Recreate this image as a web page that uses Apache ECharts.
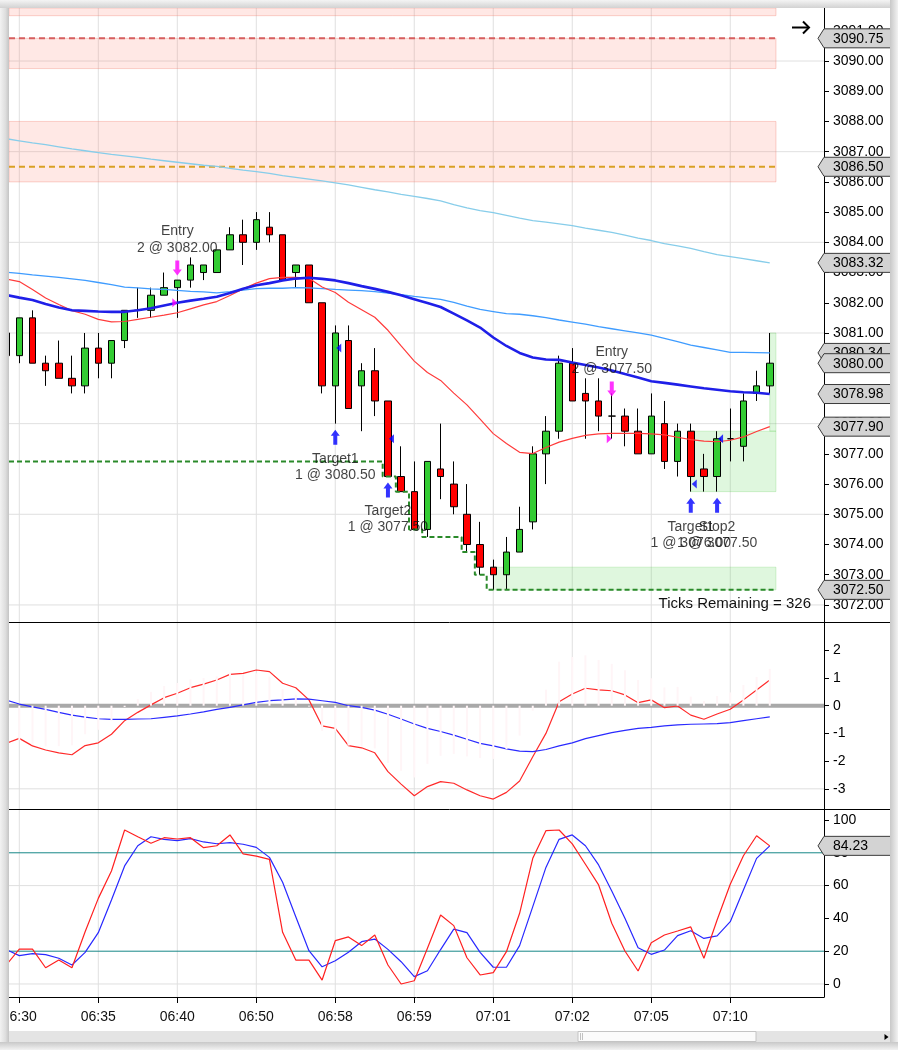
<!DOCTYPE html>
<html><head><meta charset="utf-8">
<script src="https://cdn.jsdelivr.net/npm/echarts@6/dist/echarts.min.js"></script>
<style>html,body{margin:0;padding:0;background:#fff;}#c{width:898px;height:1050px;}</style>
</head><body><div id="c"></div>
<script>
// ---------- data ----------
const timeTickIdx = [1, 7, 13, 19, 25, 31, 37, 43, 49, 55];
const timeTickLabels = ['06:30', '06:35', '06:40', '06:50', '06:58', '06:59', '07:01', '07:02', '07:05', '07:10'];

const opens  = [3081.0,3080.25,3081.5,3080.0,3080.0,3079.5,3079.25,3080.5,3080.0,3080.75,3081.75,3081.75,3082.25,3082.5,3082.75,3083.0,3083.0,3083.75,3084.25,3084.0,3084.5,3084.25,3083.0,3083.25,3082.0,3079.25,3080.75,3079.25,3079.75,3078.75,3076.25,3075.75,3074.5,3076.5,3076.0,3075.0,3074.0,3073.25,3073.0,3073.75,3074.75,3077.0,3077.75,3080.0,3079.0,3078.75,3078.25,3078.25,3077.75,3077.0,3078.0,3076.75,3077.75,3076.5,3076.25,3077.5,3077.25,3079.0,3079.25];
const closes = [3080.25,3081.5,3080.0,3079.75,3079.5,3079.25,3080.5,3080.0,3080.75,3081.75,3081.75,3082.25,3082.5,3082.75,3083.25,3083.25,3083.75,3084.25,3084.0,3084.75,3084.25,3082.75,3083.25,3082.0,3079.25,3081.0,3078.5,3079.75,3078.75,3076.25,3075.75,3074.5,3076.75,3076.25,3075.25,3074.0,3073.25,3073.0,3073.75,3074.5,3077.0,3077.75,3080.0,3078.75,3078.75,3078.25,3078.25,3077.75,3077.0,3078.25,3076.75,3077.75,3076.25,3076.25,3077.5,3077.5,3078.75,3079.25,3080.0];
const lows   = [3080.25,3080.0,3080.0,3079.25,3079.5,3079.0,3079.0,3079.5,3079.5,3080.5,3081.5,3081.5,3082.25,3081.5,3082.5,3082.75,3083.0,3083.75,3083.25,3083.75,3084.0,3082.75,3082.5,3082.0,3079.0,3078.0,3078.5,3077.75,3078.25,3076.25,3075.75,3074.5,3074.25,3075.5,3075.0,3073.75,3073.0,3072.5,3072.5,3073.75,3074.5,3076.0,3077.5,3078.75,3077.5,3077.75,3077.5,3077.25,3077.0,3077.0,3076.5,3076.25,3075.75,3075.75,3075.75,3076.75,3076.75,3078.75,3079.0];
const highs  = [3081.0,3081.5,3081.75,3080.25,3080.75,3080.25,3081.0,3081.0,3080.75,3081.75,3082.5,3082.5,3083.0,3082.75,3083.5,3083.25,3083.75,3084.5,3084.75,3085.0,3085.0,3084.25,3083.25,3083.25,3082.0,3081.25,3081.25,3080.0,3080.5,3078.75,3077.25,3076.75,3076.75,3078.0,3076.75,3076.0,3074.75,3073.5,3074.25,3075.25,3077.25,3078.25,3080.25,3080.5,3079.5,3079.5,3079.0,3078.5,3078.5,3079.0,3078.75,3078.0,3078.0,3077.0,3077.75,3078.5,3079.0,3079.75,3081.0];

const emaSlow = [3087.43,3087.36,3087.29,3087.23,3087.16,3087.09,3087.03,3086.97,3086.91,3086.86,3086.81,3086.75,3086.70,3086.65,3086.60,3086.55,3086.51,3086.45,3086.39,3086.34,3086.28,3086.21,3086.15,3086.09,3086.03,3085.97,3085.90,3085.82,3085.74,3085.67,3085.59,3085.52,3085.45,3085.37,3085.25,3085.14,3085.05,3084.98,3084.89,3084.80,3084.72,3084.67,3084.61,3084.55,3084.47,3084.40,3084.33,3084.24,3084.14,3084.06,3083.96,3083.88,3083.80,3083.69,3083.59,3083.53,3083.46,3083.39,3083.32];
const emaMid = [3083.01,3082.97,3082.92,3082.88,3082.84,3082.79,3082.74,3082.67,3082.60,3082.52,3082.49,3082.46,3082.44,3082.41,3082.38,3082.36,3082.33,3082.37,3082.42,3082.47,3082.48,3082.48,3082.50,3082.49,3082.47,3082.44,3082.42,3082.40,3082.37,3082.32,3082.27,3082.21,3082.16,3082.11,3082.01,3081.89,3081.78,3081.71,3081.64,3081.62,3081.57,3081.51,3081.43,3081.36,3081.29,3081.21,3081.14,3081.07,3081.00,3080.93,3080.82,3080.71,3080.60,3080.52,3080.44,3080.36,3080.36,3080.35,3080.34];
const maBlue = [3082.26,3082.17,3082.09,3081.96,3081.84,3081.75,3081.73,3081.71,3081.70,3081.70,3081.75,3081.82,3081.91,3082.00,3082.07,3082.13,3082.20,3082.32,3082.46,3082.58,3082.65,3082.74,3082.80,3082.83,3082.79,3082.74,3082.65,3082.55,3082.46,3082.36,3082.25,3082.12,3081.99,3081.86,3081.64,3081.42,3081.18,3080.85,3080.57,3080.34,3080.19,3080.12,3080.11,3080.02,3079.94,3079.86,3079.76,3079.64,3079.53,3079.40,3079.35,3079.29,3079.23,3079.17,3079.12,3079.07,3079.04,3079.02,3078.98];
const emaFast = [3082.79,3082.70,3082.44,3082.16,3081.94,3081.74,3081.62,3081.45,3081.37,3081.38,3081.45,3081.52,3081.59,3081.67,3081.80,3081.93,3082.04,3082.24,3082.46,3082.65,3082.80,3082.84,3082.84,3082.81,3082.52,3082.34,3082.02,3081.77,3081.52,3081.09,3080.57,3080.07,3079.69,3079.43,3079.01,3078.62,3078.15,3077.67,3077.34,3077.05,3077.01,3077.21,3077.39,3077.51,3077.61,3077.66,3077.68,3077.68,3077.68,3077.66,3077.63,3077.55,3077.47,3077.42,3077.40,3077.45,3077.56,3077.74,3077.90];

const macdLine = [-1.36,-1.18,-1.45,-1.60,-1.70,-1.77,-1.44,-1.34,-1.03,-0.54,-0.24,0.03,0.29,0.45,0.65,0.78,0.93,1.13,1.17,1.29,1.23,0.81,0.65,0.21,-0.73,-0.82,-1.44,-1.52,-1.70,-2.38,-2.83,-3.25,-2.92,-2.74,-2.80,-3.04,-3.25,-3.37,-3.13,-2.72,-1.84,-1.00,0.14,0.42,0.63,0.57,0.54,0.39,0.11,0.21,-0.07,-0.01,-0.34,-0.49,-0.30,-0.13,0.21,0.57,0.93];
const macdSignal = [0.20,0.06,-0.04,-0.13,-0.24,-0.34,-0.41,-0.47,-0.49,-0.49,-0.48,-0.47,-0.42,-0.37,-0.30,-0.22,-0.13,-0.06,0.03,0.12,0.18,0.21,0.25,0.24,0.18,0.12,0.00,-0.06,-0.16,-0.31,-0.48,-0.66,-0.82,-0.93,-1.06,-1.21,-1.36,-1.45,-1.56,-1.64,-1.66,-1.58,-1.45,-1.34,-1.19,-1.08,-0.97,-0.89,-0.82,-0.78,-0.73,-0.69,-0.67,-0.66,-0.65,-0.61,-0.54,-0.47,-0.40];
const macdHist = [-1.56,-1.24,-1.41,-1.47,-1.46,-1.43,-1.03,-0.87,-0.54,-0.05,0.24,0.50,0.71,0.82,0.95,1.00,1.06,1.19,1.14,1.17,1.05,0.60,0.40,-0.03,-0.91,-0.94,-1.44,-1.46,-1.54,-2.07,-2.35,-2.59,-2.10,-1.81,-1.74,-1.83,-1.89,-1.92,-1.57,-1.08,-0.18,0.58,1.59,1.76,1.82,1.65,1.51,1.28,0.93,0.99,0.66,0.68,0.33,0.17,0.35,0.48,0.75,1.04,1.33];

const stochK = [11.5,21.3,21.3,9.9,14.6,9.9,31.9,52.2,68.9,93.9,89.8,85.8,89.2,88.4,89.2,83.1,84.3,90.9,79.3,78.0,76.0,31.5,14.6,14.6,2.4,26.4,28.7,23.4,29.9,11.6,0.0,2.0,21.8,42.1,35.6,16.0,5.5,6.9,19.7,43.1,76.6,93.5,93.9,85.4,73.0,60.4,37.0,20.1,7.9,25.2,29.9,32.3,34.8,15.7,39.0,60.8,78.2,90.4,84.23];
const stochD = [21.0,17.3,18.5,17.9,15.7,11.6,19.3,31.3,51.2,72.0,84.3,89.8,88.2,87.4,88.6,86.6,85.5,86.2,85.2,83.3,77.2,62.0,41.0,20.3,10.5,14.2,19.3,25.8,27.4,21.1,13.6,4.5,8.1,21.0,33.5,31.3,19.3,10.2,10.2,23.4,47.2,71.1,88.2,90.9,84.3,72.6,56.7,40.1,22.1,18.1,20.7,29.5,32.5,27.8,29.3,38.0,57.3,76.6,84.23];

const priceTicks = [3072,3073,3074,3075,3076,3077,3078,3079,3080,3081,3082,3083,3084,3085,3086,3087,3088,3089,3090,3091];
const priceGrid = [3072,3075,3078,3081,3084,3087,3090];
const macdTicks = [-3,-2,-1,0,1,2];
const macdGrid = [-3];
const stochTicks = [0,20,40,60,80,100];
const stochGrid = [0,60];
const stochBands = [20,80];

const levelPrices = [3090.75, 3086.5];
const levelEnd = 58.5;
const pinkZones = [[0.218,58.47,3091.5,3091.754],[0.218,58.47,3089.75,3090.75],[0.218,58.47,3086.0,3088.0]];
const greenZones = [[37,58.47,3072.5,3073.25],[52,58.47,3075.75,3077.75],[58,58.47,3077.75,3081.0]];
const stopX = [0.218,28.6,28.6,29.6,29.6,30.6,30.6,31.6,31.6,34.6,34.6,35.6,35.6,36.5,36.5,58.5];
const stopY = [3076.75,3076.75,3076.25,3076.25,3075.75,3075.75,3074.5,3074.5,3074.25,3074.25,3073.75,3073.75,3073.0,3073.0,3072.5,3072.5];

const entryBars = [13, 46];
const entryArrowPrice = [3083.15, 3079.15];
const entryFill = [3082.0, 3077.5];
const entryLabels = ['Entry\n2 @ 3082.00', 'Entry\n2 @ 3077.50'];
const exitBars = [25, 29, 52, 54];
const exitArrowPrice = [3077.55, 3075.8, 3075.3, 3075.3];
const exitFill = [3080.5, 3077.5, 3076.0, 3077.5];
const exitLabels = ['Target1\n1 @ 3080.50', 'Target2\n1 @ 3077.50', 'Target1\n1 @ 3076.00', 'Stop2\n1 @ 3077.50'];

const priceFlags = [3090.75, 3086.50, 3083.32, 3080.34, 3080.00, 3078.98, 3077.90, 3072.50];
const stochFlags = [84.23];

// ---------- layout ----------
const FONT = 'Liberation Sans, Arial, sans-serif';
const X_MIN = 0.218, X_MAX = 62.12;
const pair = arr => arr.map((v, i) => [i, v]);

function hLine(stroke, width, dash) {
  return function (params, api) {
    const cs = params.coordSys;
    const y = api.coord([api.value(0), api.value(1)])[1];
    return {type: 'line', shape: {x1: cs.x, y1: y, x2: cs.x + cs.width, y2: y},
      style: {stroke: stroke, lineWidth: width, lineDash: dash || null}};
  };
}
function vLine(stroke) {
  return function (params, api) {
    const cs = params.coordSys;
    const x = api.coord([api.value(0), api.value(1)])[0];
    return {type: 'line', shape: {x1: x, y1: cs.y, x2: x, y2: cs.y + cs.height},
      style: {stroke: stroke, lineWidth: 1}};
  };
}
function zoneRender(fill, stroke) {
  return function (params, api) {
    const p0 = api.coord([api.value(0), api.value(3)]);
    const p1 = api.coord([api.value(1), api.value(2)]);
    return {type: 'rect', shape: {x: p0[0], y: p0[1], width: p1[0] - p0[0], height: p1[1] - p0[1]},
      style: {fill: fill, stroke: stroke, lineWidth: 1}};
  };
}
function flagRender(params, api) {
  const cs = params.coordSys;
  const v = api.value(1);
  const y = api.coord([api.value(0), v])[1];
  const x0 = cs.x + cs.width;
  return {type: 'group', children: [
    {type: 'polygon', shape: {points: [[x0 - 6, y], [x0, y - 9.5], [x0 + 67, y - 9.5], [x0 + 67, y + 9.5], [x0, y + 9.5]]},
      style: {fill: '#d3d3d3', stroke: '#3a3a3a', lineWidth: 1}},
    {type: 'text', style: {text: v.toFixed(2), x: x0 + 9, y: y + 0.5, align: 'left', verticalAlign: 'middle',
      fill: '#000', font: '14px ' + FONT}}
  ]};
}

const ARROW_DOWN = 'path://M2.5,0 L6.5,0 L6.5,9 L9,9 L4.5,15 L0,9 L2.5,9 Z';
const ARROW_UP = 'path://M4.5,0 L9,6 L6.5,6 L6.5,15 L2.5,15 L2.5,6 L0,6 Z';
const TRI_RIGHT = 'path://M0,0 L6,4 L0,8 Z';
const TRI_LEFT = 'path://M6,0 L0,4 L6,8 Z';

const xBase = {type: 'value', min: X_MIN, max: X_MAX, splitLine: {show: false},
  axisLine: {show: false}, axisTick: {show: false}, axisLabel: {show: false}};
function yAxisCfg(grid, min, max, ticks, fmt) {
  return {type: 'value', gridIndex: grid, position: 'right', min: min, max: max,
    splitLine: {show: false},
    axisLine: {show: true, onZero: false, lineStyle: {color: '#000', width: 1}},
    axisTick: {show: true, customValues: ticks, length: 5, lineStyle: {color: '#000'}},
    axisLabel: {show: true, customValues: ticks, formatter: fmt, margin: 9, fontSize: 14, color: '#000', fontFamily: FONT}};
}

const lineSeries = (name, data, xi, color, width, z) => ({
  type: 'line', name: name, xAxisIndex: xi, yAxisIndex: xi, data: pair(data), symbol: 'none',
  lineStyle: {color: color, width: width}, z: z || 3, silent: true, clip: true
});

const chart = echarts.init(document.getElementById('c'), null, {renderer: 'canvas'});
chart.setOption({
  animation: false,
  backgroundColor: '#ffffff',
  grid: [
    {left: 9, right: 74, top: 8, height: 614, outerBoundsMode: 'none'},
    {left: 9, right: 74, top: 622, height: 187, outerBoundsMode: 'none'},
    {left: 9, right: 74, top: 809, height: 188, outerBoundsMode: 'none'}
  ],
  xAxis: [
    Object.assign({}, xBase, {gridIndex: 0}),
    Object.assign({}, xBase, {gridIndex: 1}),
    Object.assign({}, xBase, {gridIndex: 2,
      axisLine: {show: true, onZero: false, lineStyle: {color: '#000', width: 1}},
      axisTick: {show: true, customValues: timeTickIdx, length: 6, lineStyle: {color: '#000'}},
      axisLabel: {show: true, customValues: timeTickIdx, margin: 13, fontSize: 14, color: '#111', fontFamily: FONT,
        formatter: v => { const k = timeTickIdx.indexOf(Math.round(v)); return k >= 0 ? timeTickLabels[k] : ''; }}})
  ],
  yAxis: [
    yAxisCfg(0, 3071.436, 3091.754, priceTicks, v => v.toFixed(2)),
    yAxisCfg(1, -3.729, 3.022, macdTicks, v => String(Math.round(v))),
    yAxisCfg(2, -7.93, 106.7, stochTicks, v => String(Math.round(v)))
  ],
  series: [
    // ---- price panel ----
    {type: 'custom', xAxisIndex: 0, yAxisIndex: 0, data: timeTickIdx.map(t => [t, 3080]), renderItem: vLine('#e0e0e0'), z: 0, silent: true},
    {type: 'custom', xAxisIndex: 0, yAxisIndex: 0, data: priceGrid.map(v => [X_MIN, v]), renderItem: hLine('#e0e0e0', 1), z: 0, silent: true},
    {type: 'custom', xAxisIndex: 0, yAxisIndex: 0, data: pinkZones, renderItem: zoneRender('rgba(255,120,100,0.17)', 'rgba(240,130,115,0.35)'), z: 1, silent: true},
    {type: 'custom', xAxisIndex: 0, yAxisIndex: 0, data: greenZones, renderItem: zoneRender('rgba(80,210,70,0.18)', 'rgba(80,200,70,0.22)'), z: 1, silent: true},
    {type: 'line', xAxisIndex: 0, yAxisIndex: 0, data: [[X_MIN, levelPrices[0]], [levelEnd, levelPrices[0]]], symbol: 'none',
      lineStyle: {color: '#d65f5f', width: 2, type: [6, 4]}, z: 3, silent: true},
    {type: 'line', xAxisIndex: 0, yAxisIndex: 0, data: [[X_MIN, levelPrices[1]], [levelEnd, levelPrices[1]]], symbol: 'none',
      lineStyle: {color: '#d9a024', width: 2, type: [6, 4]}, z: 3, silent: true},
    {type: 'line', xAxisIndex: 0, yAxisIndex: 0, data: stopX.map((x, k) => [x, stopY[k]]), symbol: 'none',
      lineStyle: {color: '#2a8a2a', width: 2, type: [5, 3]}, z: 3, silent: true},
    {type: 'candlestick', xAxisIndex: 0, yAxisIndex: 0,
      data: opens.map((o, i) => [i, o, closes[i], lows[i], highs[i]]),
      barWidth: 7, clip: true, silent: true, z: 2,
      itemStyle: {color: '#33cc33', color0: '#ff0000', borderColor: '#000', borderColor0: '#000', borderColorDoji: '#000', borderWidth: 1}},
    lineSeries('emaSlow', emaSlow, 0, '#87cdea', 1.3),
    lineSeries('emaMid', emaMid, 0, '#3f9cff', 1.3),
    lineSeries('emaFast', emaFast, 0, '#ff3b3b', 1.2),
    lineSeries('maBlue', maBlue, 0, '#1f1fe8', 2.6),
    {type: 'scatter', xAxisIndex: 0, yAxisIndex: 0, data: entryBars.map((b, k) => [b, entryArrowPrice[k]]),
      symbol: ARROW_DOWN, symbolSize: [9, 15], itemStyle: {color: '#ff00ff'}, z: 6, silent: true,
      label: {show: true, position: 'top', distance: 4, formatter: p => entryLabels[p.dataIndex],
        fontSize: 14, lineHeight: 17, color: '#111', fontFamily: FONT}},
    {type: 'scatter', xAxisIndex: 0, yAxisIndex: 0, data: entryBars.map((b, k) => [b, entryFill[k]]),
      symbol: TRI_RIGHT, symbolSize: [5, 9], symbolOffset: [-2.5, 0], itemStyle: {color: '#ff00ff'}, z: 6, silent: true},
    {type: 'scatter', xAxisIndex: 0, yAxisIndex: 0, data: exitBars.map((b, k) => [b, exitArrowPrice[k]]),
      symbol: ARROW_UP, symbolSize: [9, 15], itemStyle: {color: '#0000ff'}, z: 6, silent: true,
      label: {show: true, position: 'bottom', distance: 6, formatter: p => exitLabels[p.dataIndex],
        fontSize: 14, lineHeight: 16, color: '#111', fontFamily: FONT}},
    {type: 'scatter', xAxisIndex: 0, yAxisIndex: 0, data: exitBars.map((b, k) => [b, exitFill[k]]),
      symbol: TRI_LEFT, symbolSize: [5, 9], symbolOffset: [3.5, 0], itemStyle: {color: '#0000ff'}, z: 6, silent: true},
    {type: 'custom', xAxisIndex: 0, yAxisIndex: 0, data: priceFlags.map(v => [X_MIN, v]), renderItem: flagRender, clip: false, z: 10, silent: true},

    // ---- MACD panel ----
    {type: 'custom', xAxisIndex: 1, yAxisIndex: 1, data: timeTickIdx.map(t => [t, 0]), renderItem: vLine('#e0e0e0'), z: 0, silent: true},
    {type: 'custom', xAxisIndex: 1, yAxisIndex: 1, data: macdGrid.map(v => [X_MIN, v]), renderItem: hLine('#e0e0e0', 1), z: 0, silent: true},
    {type: 'custom', xAxisIndex: 1, yAxisIndex: 1, data: [[X_MIN, 0]], renderItem: hLine('#a9a9a9', 4), z: 1, silent: true},
    lineSeries('macd', macdLine, 1, '#ff2a2a', 1.2),
    lineSeries('signal', macdSignal, 1, '#2a2aff', 1.2),
    {type: 'bar', xAxisIndex: 1, yAxisIndex: 1, data: pair(macdHist), barWidth: 2, itemStyle: {color: '#fff5f7'}, z: 4, silent: true},

    // ---- Stochastic panel ----
    {type: 'custom', xAxisIndex: 2, yAxisIndex: 2, data: timeTickIdx.map(t => [t, 50]), renderItem: vLine('#e0e0e0'), z: 0, silent: true},
    {type: 'custom', xAxisIndex: 2, yAxisIndex: 2, data: stochGrid.map(v => [X_MIN, v]), renderItem: hLine('#e0e0e0', 1), z: 0, silent: true},
    {type: 'custom', xAxisIndex: 2, yAxisIndex: 2, data: stochBands.map(v => [X_MIN, v]), renderItem: hLine('#178787', 1), z: 1, silent: true},
    lineSeries('stochD', stochD, 2, '#2828ff', 1.2),
    lineSeries('stochK', stochK, 2, '#ff2020', 1.2),
    {type: 'custom', xAxisIndex: 2, yAxisIndex: 2, data: stochFlags.map(v => [X_MIN, v]), renderItem: flagRender, clip: false, z: 10, silent: true}
  ],
  graphic: [
    {type: 'line', z: 50, shape: {x1: 9, y1: 622.5, x2: 890, y2: 622.5}, style: {stroke: '#000', lineWidth: 1}},
    {type: 'line', z: 50, shape: {x1: 9, y1: 809.5, x2: 890, y2: 809.5}, style: {stroke: '#000', lineWidth: 1}},
    {type: 'text', z: 50, x: 811, y: 604, style: {text: 'Ticks Remaining = 326', font: '15px ' + FONT, fill: '#111', align: 'right', verticalAlign: 'middle'}},
    {type: 'polyline', z: 50, shape: {points: [[792, 27.5], [809, 27.5]]}, style: {stroke: '#000', lineWidth: 2, fill: null}},
    {type: 'polyline', z: 50, shape: {points: [[803, 21.5], [809, 27.5], [803, 33.5]]}, style: {stroke: '#000', lineWidth: 2, fill: null}},
    // scrollbar
    {type: 'rect', z: 60, shape: {x: 9, y: 1031, width: 881, height: 11}, style: {fill: '#e4e4e4'}},
    {type: 'rect', z: 61, shape: {x: 578, y: 1031.5, width: 178, height: 10}, style: {fill: '#fbfbfb', stroke: '#c4c4c4', lineWidth: 1}},
    {type: 'line', z: 62, shape: {x1: 580.5, y1: 1033, x2: 580.5, y2: 1040}, style: {stroke: '#c2c2c2'}},
    {type: 'line', z: 62, shape: {x1: 582.5, y1: 1033, x2: 582.5, y2: 1040}, style: {stroke: '#c2c2c2'}},
    {type: 'polygon', z: 62, shape: {points: [[884.5, 1034], [888.5, 1037], [884.5, 1040]]}, style: {fill: '#000'}},
    // window frame
    {type: 'rect', z: 100, shape: {x: 0, y: 0, width: 9, height: 1050},
      style: {fill: new echarts.graphic.LinearGradient(0, 0, 1, 0, [{offset: 0, color: '#f2f2f2'}, {offset: 0.6, color: '#dedede'}, {offset: 1, color: '#c4c4c4'}])}},
    {type: 'rect', z: 100, shape: {x: 0, y: 0, width: 898, height: 8},
      style: {fill: new echarts.graphic.LinearGradient(0, 0, 0, 1, [{offset: 0, color: '#f4f4f4'}, {offset: 1, color: '#d2d2d2'}])}},
    {type: 'rect', z: 100, shape: {x: 890, y: 0, width: 8, height: 1050},
      style: {fill: new echarts.graphic.LinearGradient(0, 0, 1, 0, [{offset: 0, color: '#c8c8c8'}, {offset: 1, color: '#f2f2f2'}])}},
    {type: 'rect', z: 100, shape: {x: 0, y: 1042, width: 898, height: 8},
      style: {fill: new echarts.graphic.LinearGradient(0, 0, 0, 1, [{offset: 0, color: '#c8c8c8'}, {offset: 1, color: '#f2f2f2'}])}}
  ]
});
</script>
</body></html>
